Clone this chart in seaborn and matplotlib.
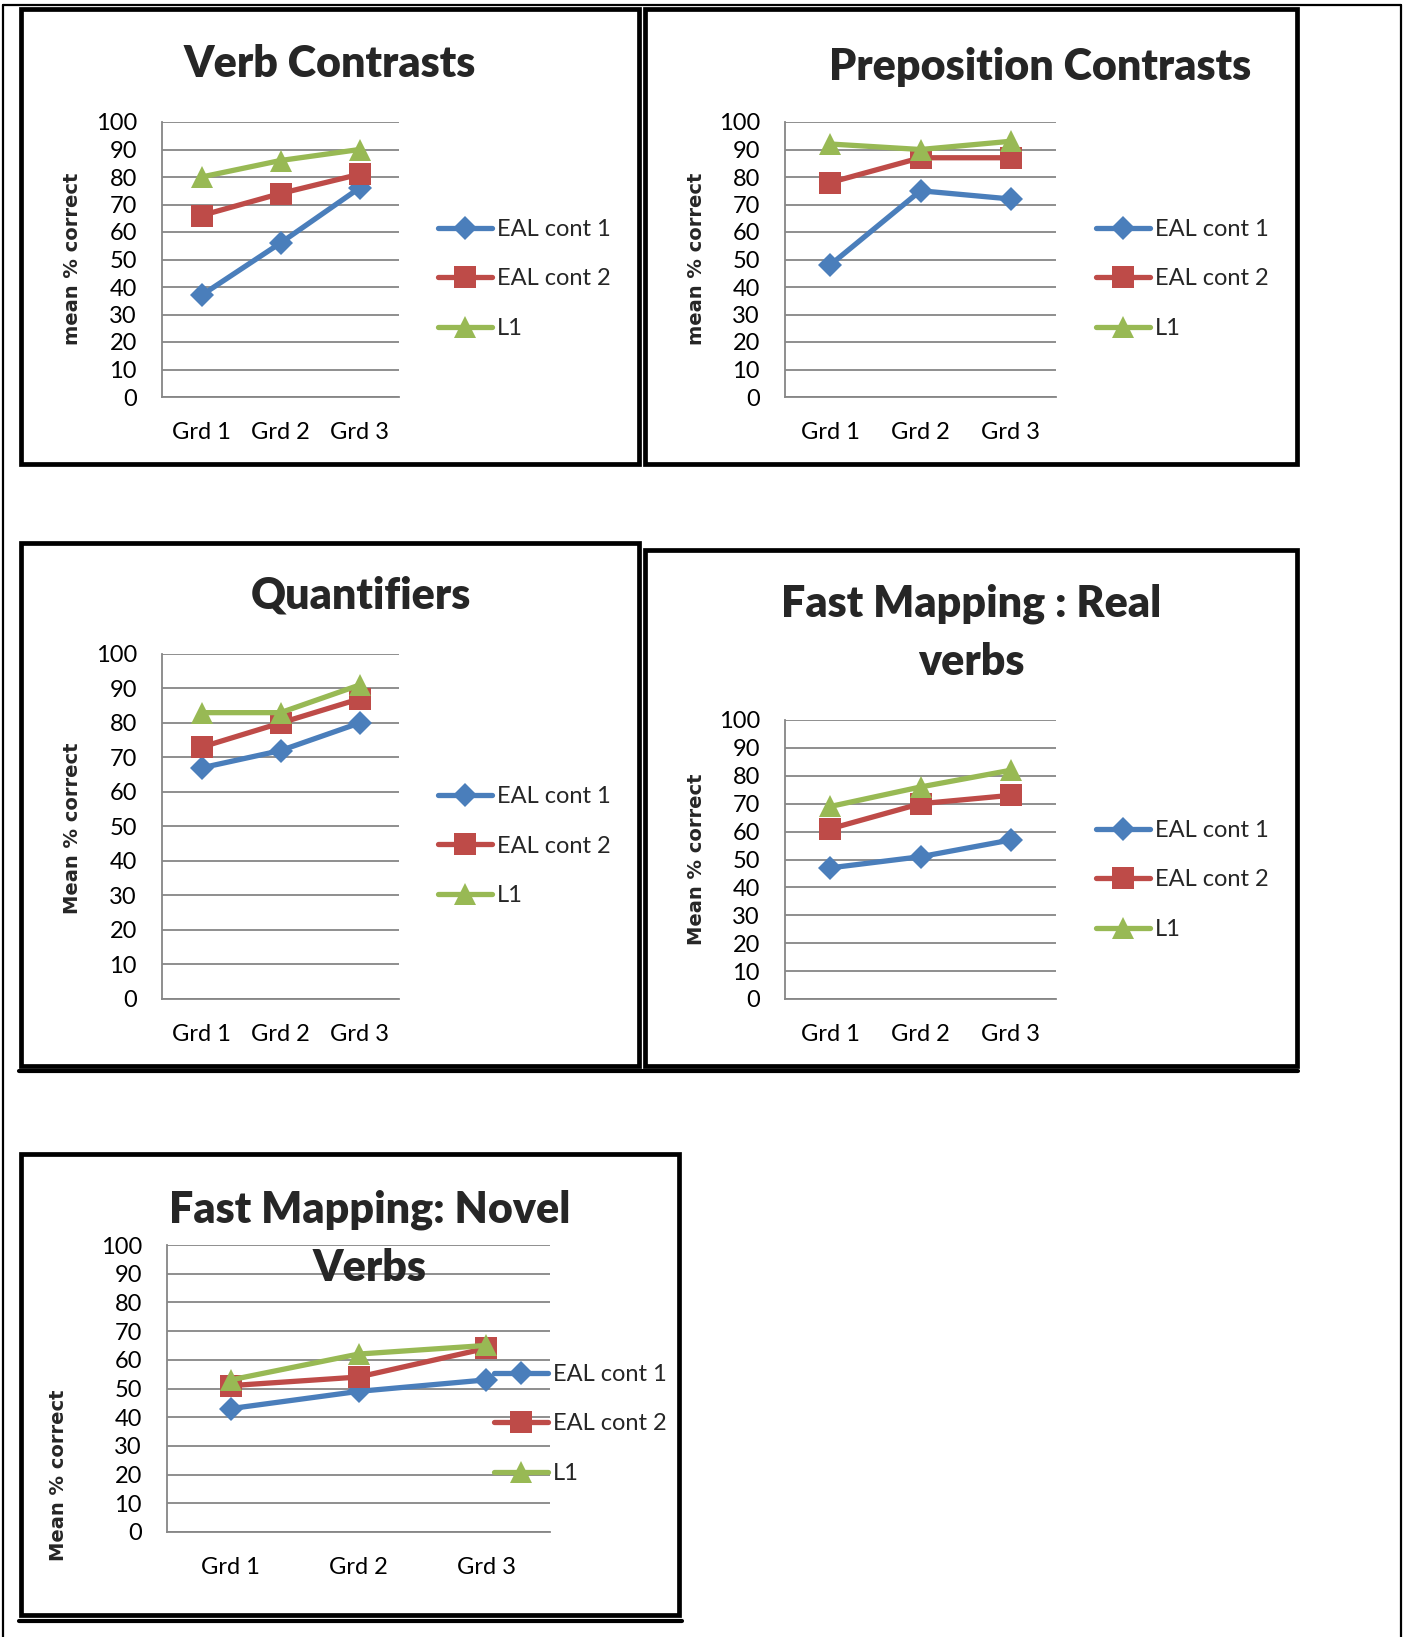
import numpy as np
import pandas as pd
import matplotlib
matplotlib.use("Agg")
import matplotlib.pyplot as plt
import seaborn as sns
from matplotlib.patches import Rectangle
from matplotlib.lines import Line2D

# ---------------- data ----------------
grades = ["Grd 1", "Grd 2", "Grd 3"]
series_names = ["EAL cont 1", "EAL cont 2", "L1"]
y_ticks = [0, 10, 20, 30, 40, 50, 60, 70, 80, 90, 100]

verb_eal1 = [37, 56, 76]
verb_eal2 = [66, 74, 81]
verb_l1 = [80, 86, 90]

prep_eal1 = [48, 75, 72]
prep_eal2 = [78, 87, 87]
prep_l1 = [92, 90, 93]

quant_eal1 = [67, 72, 80]
quant_eal2 = [73, 80, 87]
quant_l1 = [83, 83, 91]

fmreal_eal1 = [47, 51, 57]
fmreal_eal2 = [61, 70, 73]
fmreal_l1 = [69, 76, 82]

fmnovel_eal1 = [43, 49, 53]
fmnovel_eal2 = [51, 54, 64]
fmnovel_l1 = [53, 62, 65]

titles = ["Verb Contrasts", "Preposition Contrasts", "Quantifiers",
          "Fast Mapping : Real\nverbs", "Fast Mapping: Novel\nVerbs"]
ylabels = ["mean % correct", "mean % correct", "Mean % correct",
           "Mean % correct", "Mean % correct"]

panel_values = [
    (verb_eal1, verb_eal2, verb_l1),
    (prep_eal1, prep_eal2, prep_l1),
    (quant_eal1, quant_eal2, quant_l1),
    (fmreal_eal1, fmreal_eal2, fmreal_l1),
    (fmnovel_eal1, fmnovel_eal2, fmnovel_l1),
]

# ---------------- style ----------------
colors = {"EAL cont 1": "#4A7EBB", "EAL cont 2": "#BE4B48", "L1": "#98B954"}
markers = {"EAL cont 1": "D", "EAL cont 2": "s", "L1": "^"}
msize = {"D": 12.5, "s": 15.5, "^": 15.5}
grid_col = "#868686"
line_w = 3.8

sns.set_style("white")
plt.rcParams["font.family"] = ["Lato", "DejaVu Sans"]

W, H = 1406, 1637
fig = plt.figure(figsize=(W / 100, H / 100), dpi=100)


def fx(x):
    return x / W


def fy(y):
    return 1 - y / H


# layout in pixel coordinates (x0, y0, x1, y1) with y downward
layout = [
    dict(ax=(162, 122, 399, 397), box=(21, 9, 639, 464), title=(330, 64),
         ylab=(73, 259), leg=(438, 279)),
    dict(ax=(785, 122, 1056, 397), box=(645, 9, 1297, 464), title=(1040, 67),
         ylab=(697, 259), leg=(1096, 279)),
    dict(ax=(162, 654, 399, 999), box=(21, 543, 639, 1066), title=(361, 595),
         ylab=(73, 828), leg=(438, 846)),
    dict(ax=(785, 720, 1056, 999), box=(645, 550, 1297, 1066), title=(971, 633),
         ylab=(697, 859), leg=(1096, 880)),
    dict(ax=(167, 1245, 550, 1532), box=(21, 1154, 679, 1615), title=(370, 1239),
         ylab=(58, 1475), leg=(494, 1424)),
]

# frame lines of the page
page_lw = 1.6
for (xa, ya, xb, yb) in [(3, 5, 1401, 5), (3, 5, 3, 1637), (1401, 5, 1401, 1637)]:
    fig.add_artist(Line2D([fx(xa), fx(xb)], [fy(ya), fy(yb)], color="black",
                          lw=page_lw, transform=fig.transFigure))
for (xa, ya, xb, yb) in [(19, 1071, 1298, 1071), (19, 1621, 682, 1621)]:
    fig.add_artist(Line2D([fx(xa), fx(xb)], [fy(ya), fy(yb)], color="black",
                          lw=3.0, transform=fig.transFigure))

for i, lay in enumerate(layout):
    # panel box
    bx0, by0, bx1, by1 = lay["box"]
    fig.add_artist(Rectangle((fx(bx0), fy(by1)), fx(bx1) - fx(bx0), fy(by0) - fy(by1),
                             fill=False, edgecolor="black", lw=3.4,
                             transform=fig.transFigure))

    x0, y0, x1, y1 = lay["ax"]
    ax = fig.add_axes([fx(x0), fy(y1), fx(x1) - fx(x0), fy(y0) - fy(y1)])
    ax.patch.set_alpha(0)

    e1, e2, l1 = panel_values[i]
    df = pd.DataFrame({
        "grade": grades * 3,
        "series": [series_names[0]] * 3 + [series_names[1]] * 3 + [series_names[2]] * 3,
        "value": list(e1) + list(e2) + list(l1),
    })
    sns.lineplot(data=df, x="grade", y="value", hue="series", style="series",
                 hue_order=series_names, style_order=series_names,
                 palette=colors, markers=markers, dashes=False, errorbar=None,
                 linewidth=line_w, markersize=13, markeredgewidth=0,
                 sort=False, ax=ax)
    for ln in ax.lines:
        m = ln.get_marker()
        if m in msize:
            ln.set_markersize(msize[m])
        ln.set_solid_joinstyle("round")
        ln.set_solid_capstyle("round")

    ax.set_xlim(-0.5, 2.5)
    ax.set_ylim(0, 100)
    ax.set_yticks(y_ticks)
    ax.set_yticklabels([str(v) for v in y_ticks])
    ax.grid(axis="y", color=grid_col, lw=1.3)
    ax.grid(axis="x", visible=False)
    ax.set_axisbelow(True)
    for s in ["top", "right"]:
        ax.spines[s].set_visible(False)
    for s in ["left", "bottom"]:
        ax.spines[s].set_color(grid_col)
        ax.spines[s].set_linewidth(1.3)
    ax.tick_params(axis="y", length=0, pad=18, labelsize=17, labelcolor="black")
    ax.tick_params(axis="x", length=0, pad=18, labelsize=17, labelcolor="black")
    ax.set_xlabel("")

    # y label
    ax.set_ylabel(ylabels[i], fontfamily="DejaVu Sans", fontweight="bold",
                  fontsize=14, va="center", ha="center")
    ylx, yly = lay["ylab"]
    ax.yaxis.set_label_coords((ylx - x0) / (x1 - x0), (y1 - yly) / (y1 - y0))

    # title
    tx, ty = lay["title"]
    ax.set_title(titles[i], x=(tx - x0) / (x1 - x0), y=(y1 - ty) / (y1 - y0),
                 pad=0, va="center", ha="center", fontsize=31, fontweight="heavy",
                 linespacing=1.55, zorder=5)

    # legend
    lx, lyy = lay["leg"]
    sns.move_legend(ax, "center left", bbox_to_anchor=(fx(lx), fy(lyy)),
                    bbox_transform=fig.transFigure, frameon=False, title=None,
                    fontsize=17, handlelength=2.3, handletextpad=0.2,
                    labelspacing=1.2, borderpad=0, borderaxespad=0)
    leg = ax.get_legend()
    for h in leg.legend_handles:
        m = h.get_marker()
        if m in msize:
            h.set_markersize(msize[m])
        h.set_linewidth(line_w)
        h.set_markeredgewidth(0)

fig.savefig("out.png", dpi=100, facecolor="white")
